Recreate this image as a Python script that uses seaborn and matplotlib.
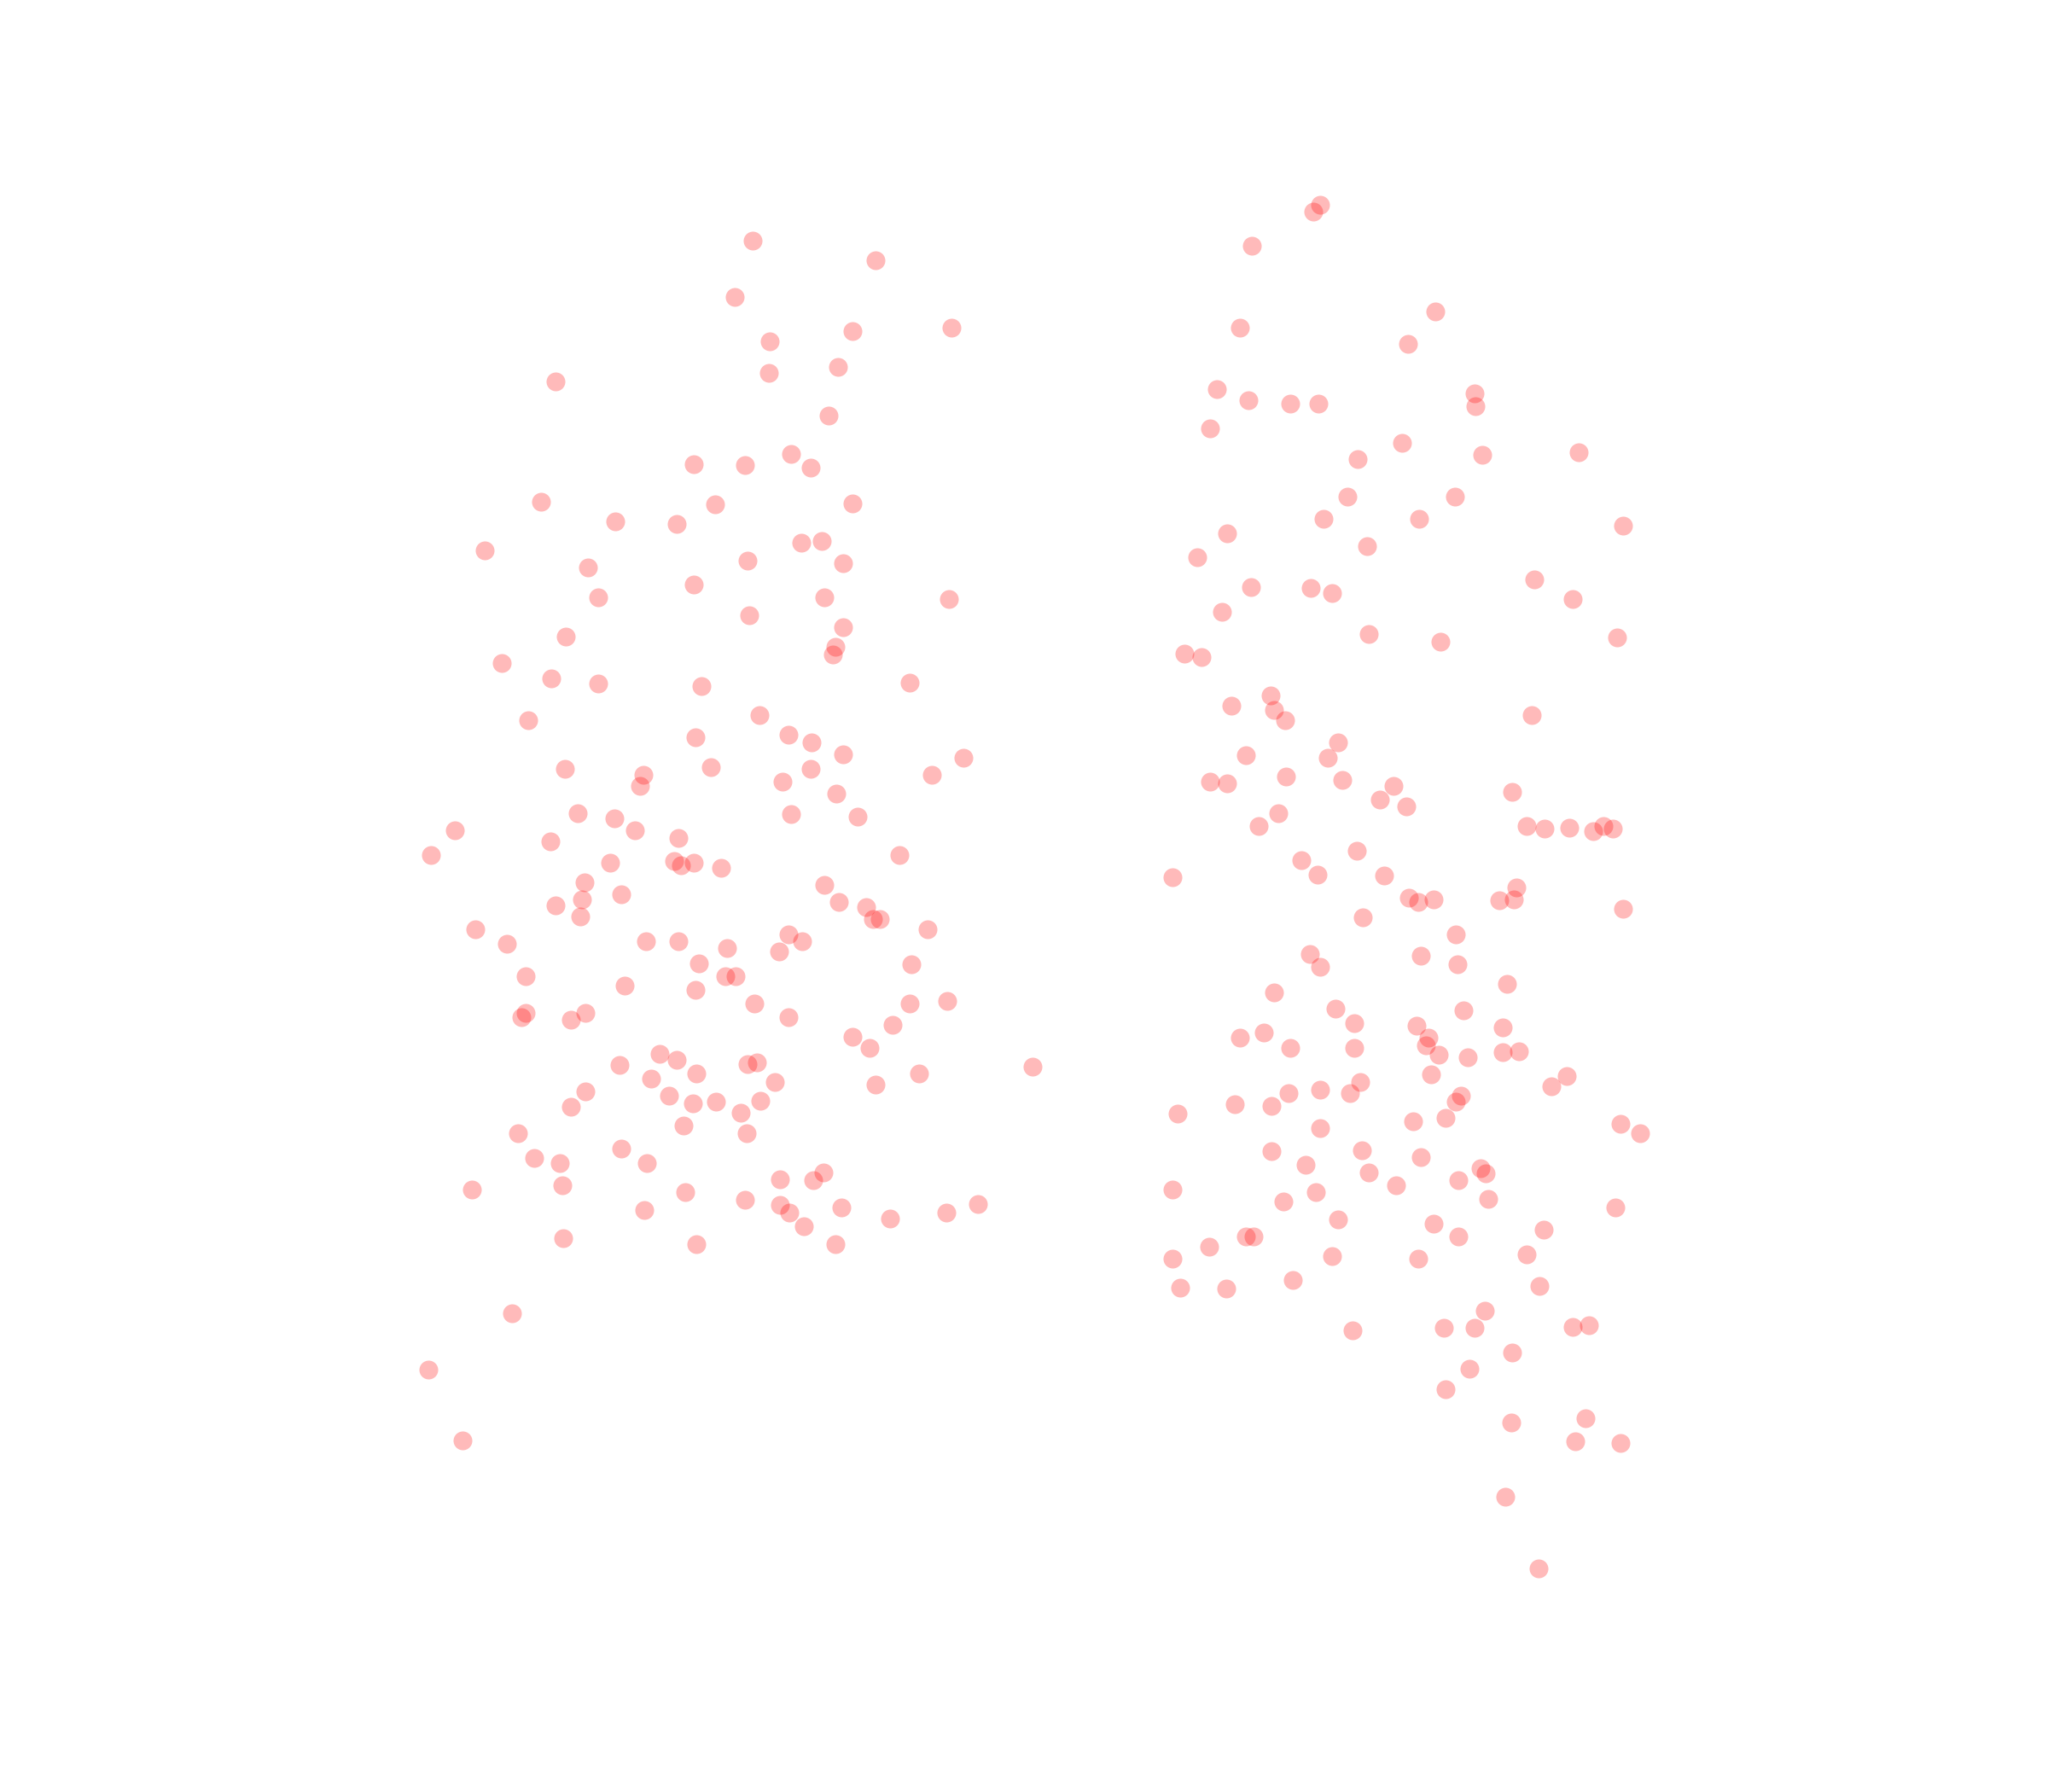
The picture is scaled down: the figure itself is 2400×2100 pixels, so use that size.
import pandas as pd
import numpy as np
import seaborn as sns
import matplotlib.pyplot as plt

# 两组散点（横向位置含抖动，纵向为数值）
left_x = [576, 670, 562, 728, 652, 589, 588, 641, 425, 634, 531, 570, 605, 620, 414, 547, 652, 471, 518, 371,
          613, 629, 572, 645, 450, 531, 458, 631, 726, 573, 645, 433, 639, 637, 384, 422, 458, 537, 696, 404,
          581, 603, 532, 621, 645, 737, 432, 544, 620, 492, 713, 490, 599, 640, 442, 605, 470, 656, 348, 486,
          519, 421, 330, 688, 467, 516, 521, 531, 552, 447, 631, 475, 445, 642, 425, 663, 444, 668, 673, 364,
          710, 388, 494, 519, 603, 614, 556, 596, 535, 697, 402, 555, 563, 478, 532, 577, 696, 725, 402, 399,
          448, 437, 603, 683, 652, 665, 505, 518, 474, 572, 579, 790, 533, 703, 498, 593, 670, 448, 512, 530,
          548, 582, 437, 567, 523, 396, 571, 475, 409, 428, 495, 630, 597, 622, 361, 430, 524, 570, 597, 748,
          493, 604, 644, 724, 681, 615, 431, 533, 639, 392, 328, 354]
left_y = [184, 199, 227, 251, 253, 261, 285, 281, 292, 318, 355, 356, 347, 358, 384, 386, 385, 399, 401, 421,
          415, 414, 429, 431, 434, 447, 457, 457, 458, 471, 480, 487, 495, 501, 507, 519, 523, 525, 522, 551,
          547, 562, 564, 568, 577, 580, 588, 587, 588, 593, 593, 601, 598, 607, 622, 623, 626, 625, 635, 635,
          641, 644, 654, 654, 660, 659, 662, 660, 664, 675, 677, 684, 688, 690, 693, 694, 701, 703, 703, 711,
          711, 722, 720, 720, 715, 720, 725, 728, 737, 738, 747, 747, 747, 754, 757, 768, 768, 766, 775, 778,
          775, 780, 778, 784, 793, 802, 806, 811, 815, 814, 813, 816, 821, 821, 825, 828, 830, 835, 838, 844,
          843, 842, 847, 851, 861, 867, 867, 879, 886, 890, 890, 897, 902, 903, 910, 907, 912, 918, 922, 921,
          926, 928, 924, 928, 932, 938, 947, 952, 952, 1005, 1048, 1102]

right_x = [1010, 1005, 958, 1098, 949, 1077, 931, 1128, 955, 987, 1009, 1129, 926, 1073, 1134, 1208, 1039, 1031,
           1113, 1013, 1086, 1242, 939, 1046, 916, 1174, 957, 1003, 1019, 1203, 935, 1047, 1237, 1102, 906, 919,
           972, 942, 975, 983, 1172, 1024, 953, 1016, 984, 926, 939, 1027, 1066, 1157, 1056, 1076, 978, 963,
           1168, 1182, 1201, 1219, 1227, 1234, 1038, 996, 897, 1008, 1059, 1160, 1078, 1085, 1097, 1147, 1158,
           1242, 1043, 1114, 1002, 1087, 1010, 1115, 1153, 975, 1022, 1120, 1036, 1084, 1150, 967, 949, 1093,
           1091, 987, 1036, 1101, 1123, 1150, 1162, 1095, 1199, 1187, 1041, 1033, 1010, 986, 1118, 1114, 945,
           973, 901, 1106, 1081, 1240, 1255, 1010, 1042, 973, 1087, 999, 1133, 1137, 1047, 1116, 1068, 897,
           1007, 1139, 982, 1236, 1024, 1097, 1181, 953, 959, 1116, 925, 1019, 1085, 1168, 897, 989, 903, 938,
           1178, 1136, 1035, 1105, 1128, 1203, 1216, 1157, 1124, 1106, 1213, 1156, 1205, 1240, 1152, 1177]
right_y = [157, 162, 188, 238, 251, 263, 298, 301, 306, 309, 309, 311, 328, 339, 348, 346, 351, 380,
           380, 397, 397, 402, 408, 418, 426, 443, 449, 450, 454, 458, 468, 485, 488, 491, 500, 503,
           532, 540, 543, 551, 547, 568, 578, 580, 594, 598, 599, 597, 601, 606, 612, 617, 622, 632,
           632, 634, 633, 636, 632, 634, 651, 658, 671, 669, 670, 679, 687, 690, 688, 689, 688,
           695, 702, 715, 730, 731, 740, 738, 753, 759, 772, 773, 783, 785, 786, 790, 794, 794,
           800, 802, 802, 807, 809, 805, 804, 822, 823, 831, 828, 836, 834, 836, 838, 843, 845,
           846, 852, 855, 858, 860, 867, 863, 880, 881, 885, 891, 894, 898, 897, 903, 907, 910,
           912, 917, 919, 924, 933, 936, 941, 946, 946, 946, 954, 961, 963, 960, 963, 979, 985, 986,
           984, 1003, 1018, 1016, 1016, 1015, 1014, 1035, 1047, 1063, 1085, 1088, 1103, 1104, 1145, 1200]

df = pd.DataFrame({
    'x': left_x + right_x,
    'y': left_y + right_y,
    'group': ['A'] * len(left_x) + ['B'] * len(right_x),
})

fig = plt.figure(figsize=(8, 7), dpi=300)
ax = fig.add_axes([0, 0, 1, 1])
sns.scatterplot(data=df, x='x', y='y', color='red', alpha=0.27, s=28, linewidth=0, ax=ax, legend=False)
ax.set_xlim(0, 1567)
ax.set_ylim(1371, 0)
ax.set_axis_off()
fig.savefig('out.png', dpi=300)
